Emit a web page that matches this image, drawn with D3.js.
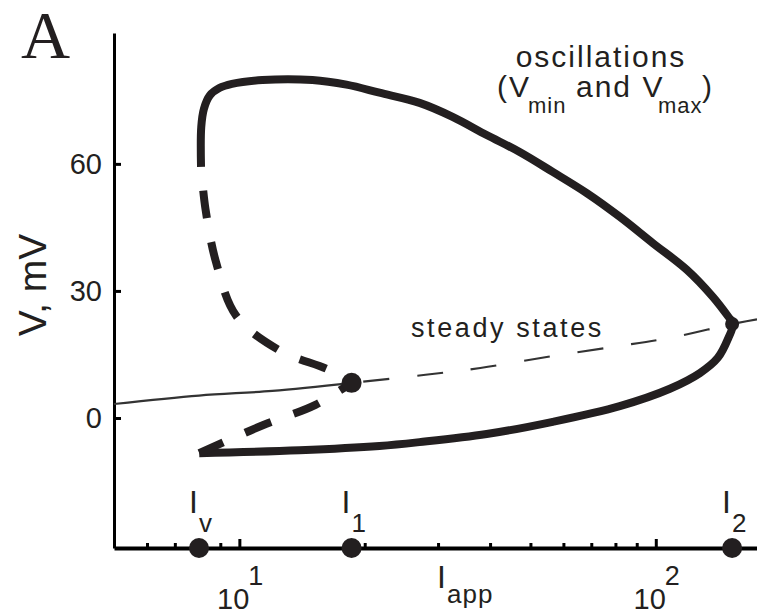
<!DOCTYPE html>
<html lang='en'>
<head>
    <meta charset='UTF-8' />
    <title>Oscillations and steady states versus applied current</title>
    <style>
        html,
        body {
            margin: 0;
            background: #fff;
        }

        svg {
            display: block;
        }

        text {
            font-family: "Liberation Sans", Arial, sans-serif;
            fill: #231f20;
        }
    </style>
</head>
<body>
    <div id="chart"></div>

    <script src="https://d3js.org/d3.v7.min.js"></script>
    <script>
        // values: I_app on a log axis, V in mV

        const vTicks = [0, 30, 60];
        const majorTicks = [10, 100];
        const majorExponents = ["1", "2"];
        const minorTicks = [6, 7, 8, 9, 20, 30, 40, 50, 60, 70, 80, 90];

        // steady states (stable part, then unstable part)
        const steadyStableI = [5.0, 8.0, 12.0, 18.6];
        const steadyStableV = [3.3, 5.3, 6.4, 8.3];
        const steadyUnstableI = [18.6, 28.0, 37.9, 54.7, 78.9, 108, 152.5, 175];
        const steadyUnstableV = [8.3, 10.2, 11.8, 14.4, 16.8, 18.9, 22.2, 23.3];

        // stable oscillations: Vmax branch, round the turning point, Vmin branch
        const oscStableI = [8.09, 8.10, 8.22, 8.50, 8.95, 9.6, 11.36, 14.98, 18.08, 21.7, 27.08, 32.51, 39.25,
            47.11, 56.56, 68.27, 81.94, 98.35, 118.7, 137.1, 149.4, 153.3,
            149.4, 140.9, 127.6, 108.1, 81.94, 56.56, 39.25, 27.08, 21.7, 13.94, 8.01];
        const oscStableV = [59.3, 68.7, 73.0, 76.2, 77.9, 78.9, 79.8, 79.8, 78.7, 76.8, 74.4, 71.1, 66.8,
            62.8, 58.1, 53.1, 47.5, 41.3, 35.0, 28.6, 23.9, 22.3,
            18.9, 14.2, 10.6, 6.9, 2.8, -0.9, -3.8, -5.7, -6.6, -7.6, -8.3];

        // unstable oscillations (dashed)
        const oscUnstableUpperI = [8.09, 8.29, 8.80, 9.83, 12.41, 16.46, 18.6];
        const oscUnstableUpperV = [59.3, 49.4, 36.6, 24.1, 16.1, 11.3, 8.3];
        const oscUnstableLowerI = [18.6, 15.23, 11.42, 8.01];
        const oscUnstableLowerV = [8.3, 3.1, -1.65, -8.3];

        // bifurcation currents marked on the axis
        const bifNames = ["v", "1", "2"];
        const bifI = [8.0, 18.6, 152.5];

        const width = 757;
        const height = 613;
        const ink = "#231f20";

        const svg = d3.select("#chart")
            .append("svg")
            .attr("width", width)
            .attr("height", height);

        const x = d3.scaleLog().domain([5, 175]).range([114, 757]);
        const y = d3.scaleLinear().domain([-30.7, 90.9]).range([548, 33]);

        const line = d3.line()
            .x(d => x(d[0]))
            .y(d => y(d[1]))
            .curve(d3.curveCatmullRom.alpha(0.5));

        // axes
        const yAxis = svg.append("g")
            .attr("transform", `translate(${x(5)},0)`)
            .call(d3.axisLeft(y).tickValues(vTicks).tickSize(-7).tickSizeOuter(0).tickPadding(12));
        yAxis.select(".domain").attr("stroke", "#000").attr("stroke-width", 3);
        yAxis.selectAll(".tick line").attr("stroke", "#000").attr("stroke-width", 3);
        yAxis.selectAll(".tick text")
            .attr("font-size", 29)
            .attr("fill", ink);

        const xMinor = svg.append("g")
            .attr("transform", `translate(0,${y(-30.7)})`)
            .call(d3.axisBottom(x).tickValues(minorTicks).tickSize(-5).tickSizeOuter(0).tickFormat(""));
        xMinor.select(".domain").attr("stroke", "#000").attr("stroke-width", 4);
        xMinor.selectAll(".tick line").attr("stroke", "#000").attr("stroke-width", 3);

        const xMajor = svg.append("g")
            .attr("transform", `translate(0,${y(-30.7)})`)
            .call(d3.axisBottom(x).tickValues(majorTicks).tickSize(-9).tickSizeOuter(0).tickFormat(""));
        xMajor.select(".domain").remove();
        xMajor.selectAll(".tick line").attr("stroke", "#000").attr("stroke-width", 3);

        // decade labels 10^1, 10^2
        majorTicks.forEach((v, i) => {
            svg.append("text")
                .attr("x", x(v) + 10)
                .attr("y", 609)
                .attr("text-anchor", "end")
                .attr("font-size", 29)
                .text("10");
            svg.append("text")
                .attr("x", x(v) + 9)
                .attr("y", 585)
                .attr("font-size", 27)
                .text(majorExponents[i]);
        });

        // steady states
        svg.append("path")
            .datum(d3.zip(steadyStableI, steadyStableV))
            .attr("d", line)
            .attr("fill", "none")
            .attr("stroke", "#333")
            .attr("stroke-width", 2.2);

        svg.append("path")
            .datum(d3.zip(steadyUnstableI, steadyUnstableV))
            .attr("d", line)
            .attr("fill", "none")
            .attr("stroke", "#333")
            .attr("stroke-width", 2.2)
            .attr("stroke-dasharray", "26,28")
            .attr("stroke-dashoffset", -12);

        // oscillations
        svg.append("path")
            .datum(d3.zip(oscStableI, oscStableV))
            .attr("d", line)
            .attr("fill", "none")
            .attr("stroke", ink)
            .attr("stroke-width", 8)
            .attr("stroke-linejoin", "miter");

        svg.append("path")
            .datum(d3.zip(oscUnstableUpperI, oscUnstableUpperV))
            .attr("d", line)
            .attr("fill", "none")
            .attr("stroke", ink)
            .attr("stroke-width", 8)
            .attr("stroke-dasharray", "28,24")
            .attr("stroke-dashoffset", 28);

        svg.append("path")
            .datum(d3.zip(oscUnstableLowerI, oscUnstableLowerV))
            .attr("d", line)
            .attr("fill", "none")
            .attr("stroke", ink)
            .attr("stroke-width", 8)
            .attr("stroke-dasharray", "28,24")
            .attr("stroke-dashoffset", 14);

        // bifurcation points on the curves
        svg.append("circle")
            .attr("cx", x(bifI[1]))
            .attr("cy", y(steadyStableV[steadyStableV.length - 1]))
            .attr("r", 10)
            .attr("fill", ink);

        svg.append("circle")
            .attr("cx", x(bifI[2]))
            .attr("cy", y(steadyUnstableV[6]))
            .attr("r", 7)
            .attr("fill", ink);

        // dots and labels on the current axis
        bifI.forEach((v, i) => {
            svg.append("circle")
                .attr("cx", x(v))
                .attr("cy", y(-30.7))
                .attr("r", 10)
                .attr("fill", ink);
            svg.append("text")
                .attr("x", x(v) - 10)
                .attr("y", 513)
                .attr("font-size", 32)
                .text("I");
            svg.append("text")
                .attr("x", x(v))
                .attr("y", 532)
                .attr("font-size", 26)
                .text(bifNames[i]);
        });

        // I_app
        svg.append("text").attr("x", 437).attr("y", 588).attr("font-size", 32).text("I");
        svg.append("text").attr("x", 447).attr("y", 603).attr("font-size", 26)
            .attr("letter-spacing", 1).text("app");

        // y label
        svg.append("text")
            .attr("transform", "translate(46,285) rotate(-90)")
            .attr("text-anchor", "middle")
            .attr("font-size", 39)
            .text("V, mV");

        // panel letter
        svg.append("text")
            .attr("x", 21)
            .attr("y", 58)
            .style("font-family", "'Liberation Serif', 'Times New Roman', serif")
            .attr("font-size", 68)
            .text("A");

        // annotations
        svg.append("text")
            .attr("x", 601)
            .attr("y", 67)
            .attr("text-anchor", "middle")
            .attr("font-size", 30)
            .attr("letter-spacing", 2)
            .text("oscillations");

        const note = svg.append("text").attr("font-size", 30).attr("letter-spacing", 2);
        note.append("tspan").attr("x", 497).attr("y", 97).text("(V");
        note.append("tspan").attr("x", 528).attr("y", 113).attr("font-size", 22).attr("letter-spacing", 1).text("min");
        note.append("tspan").attr("x", 576).attr("y", 97).text("and V");
        note.append("tspan").attr("x", 658).attr("y", 113).attr("font-size", 22).attr("letter-spacing", 1).text("max");
        note.append("tspan").attr("x", 702).attr("y", 97).text(")");

        svg.append("text")
            .attr("x", 411)
            .attr("y", 337)
            .attr("font-size", 27)
            .attr("letter-spacing", 2.6)
            .text("steady states");
    </script>
</body>
</html>
